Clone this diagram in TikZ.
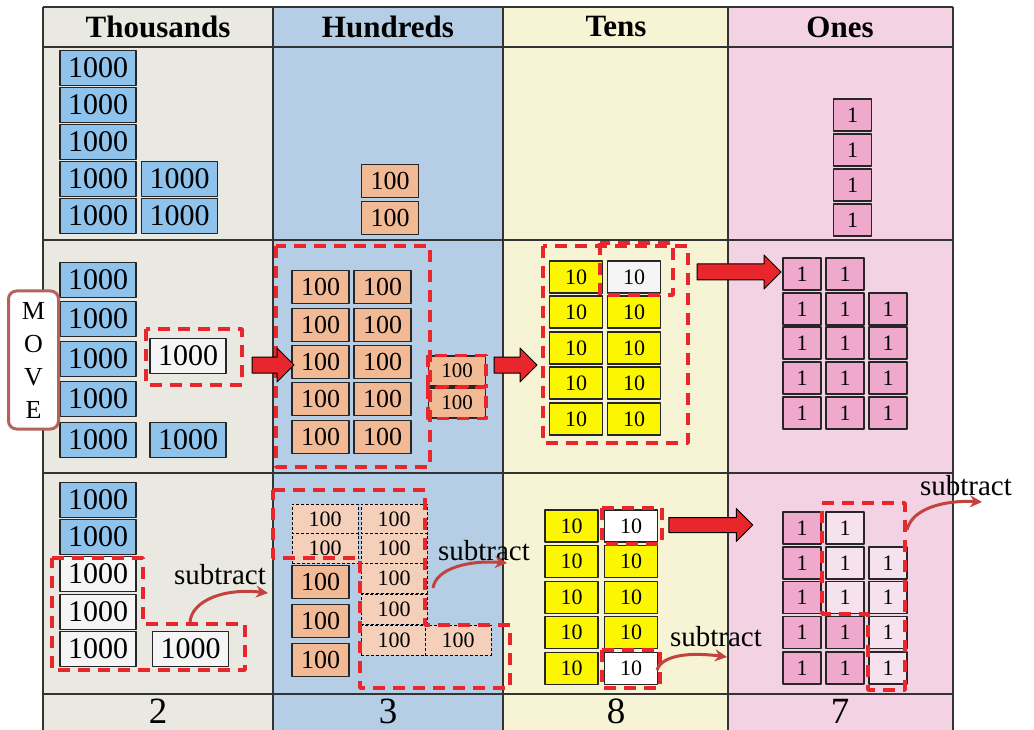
\documentclass[tikz,border=0pt]{standalone}
\usepackage{fontspec}
\setmainfont{Liberation Serif}
\usetikzlibrary{calc}
\usetikzlibrary{shapes.arrows, arrows.meta}

\definecolor{thoubg}{HTML}{E9E9E1}
\definecolor{hundbg}{HTML}{B5CEE5}
\definecolor{tenbg}{HTML}{F7F3D5}
\definecolor{onebg}{HTML}{F3D3E3}
\definecolor{thoucol}{HTML}{8FC3EC}
\definecolor{hundcol}{HTML}{F2B995}
\definecolor{hundpale}{HTML}{F4D0BA}
\definecolor{tencol}{HTML}{FCF600}
\definecolor{onecol}{HTML}{EEA9CD}
\definecolor{onepale}{HTML}{F6E2ED}
\definecolor{cutred}{HTML}{E8262C}
\definecolor{curvered}{HTML}{C2433D}
\definecolor{moveframe}{HTML}{B5625C}

\tikzset{
  tile/.style={draw=black!85, line width=1.3pt, inner sep=0pt},
  thou/.style={tile, fill=thoucol, minimum width=76pt, minimum height=35pt,
    font=\fontsize{30}{30}\selectfont},
  hund/.style={tile, fill=hundcol, minimum width=57pt, minimum height=33pt,
    font=\fontsize{26}{26}\selectfont},
  hundsmall/.style={hund, minimum height=30pt, font=\fontsize{21}{21}\selectfont},
  hundgone/.style={tile, draw=black, line width=0.8pt, densely dashed, fill=hundpale,
    minimum width=66pt, minimum height=30pt, font=\fontsize{22}{22}\selectfont},
  ten/.style={tile, fill=tencol, minimum width=53pt, minimum height=32pt,
    font=\fontsize{22}{22}\selectfont},
  one/.style={tile, fill=onecol, minimum width=38pt, minimum height=32pt,
    font=\fontsize{22}{22}\selectfont},
  gone/.style={fill=white!96!black},
  palepink/.style={fill=onepale},
  gridline/.style={draw=black!80, line width=1.2pt},
  head/.style={font=\fontsize{31}{31}\selectfont\bfseries},
  digit/.style={font=\fontsize{37}{37}\selectfont},
  cut/.style={draw=cutred, line width=3.5pt, dash pattern=on 12pt off 8pt},
  bigarrow/.style={single arrow, draw=black, line width=1pt, fill=cutred,
    inner xsep=0pt, inner ysep=7.5pt, single arrow head extend=9pt},
  sublabel/.style={font=\fontsize{29}{29}\selectfont},
  subarrow/.style={draw=curvered, line width=3pt, -{Stealth[length=12pt, width=12pt]}},
}

\begin{document}
\begin{tikzpicture}[x=1pt, y=-1pt, line join=round]
  \useasboundingbox (0,0) rectangle (1034,730);

  %--------------------------
  % Columns and grid
  %--------------------------
  \fill[thoubg] (43,7) rectangle (273,730);
  \fill[hundbg] (273,7) rectangle (503,730);
  \fill[tenbg] (503,7) rectangle (728,730);
  \fill[onebg] (728,7) rectangle (953,730);
  \foreach \x in {43,273,503,728,953}
    \draw[gridline] (\x,7) -- (\x,730);
  \foreach \y in {7,47,240,473,694}
    \draw[gridline] (43,\y) -- (953,\y);

  \foreach \name/\x/\txt in {th/158/Thousands, hu/388/Hundreds, te/616/Tens, on/840/Ones}
    \node[head] (head-\name) at (\x,27) {\txt};
  \foreach \name/\x/\d in {th/158/2, hu/388/3, te/616/8, on/840/7}
    \node[digit] (res-\name) at (\x,711) {\d};

  %--------------------------
  % Row 1: the number
  %--------------------------
  \foreach \y [count=\i] in {68,105,142,179,216}
    \node[thou] (ta\i) at (98,\y) {1000};
  \node[thou] (ta6) at (179.5,179) {1000};
  \node[thou] (ta7) at (179.5,216) {1000};
  \node[hund] (ha1) at (390,181) {100};
  \node[hund] (ha2) at (390,218) {100};
  \foreach \y [count=\i] in {115,150,185,220}
    \node[one] (oa\i) at (852.5,\y) {1};

  %--------------------------
  % Row 2: regrouping
  %--------------------------
  \foreach \y [count=\i] in {280,319,359,399,440}
    \node[thou] (tb\i) at (98,\y) {1000};
  \node[thou, gone] (tbm) at (188,356) {1000};
  \node[thou] (tb6) at (188,440) {1000};

  \foreach \y [count=\i] in {287,325,362,399,437} {
    \node[hund] (hbl\i) at (320.5,\y) {100};
    \node[hund] (hbr\i) at (382.5,\y) {100};
  }
  \node[hundsmall] (hbx1) at (457,371) {100};
  \node[hundsmall] (hbx2) at (457,403) {100};

  \node[ten] (nbl1) at (576,277) {10};
  \node[ten, gone] (nbr1) at (634,277) {10};
  \foreach \y [count=\i from 2] in {312,348,383,419} {
    \node[ten] (nbl\i) at (576,\y) {10};
    \node[ten] (nbr\i) at (634,\y) {10};
  }

  \node[one] (ob1) at (802,274) {1};
  \node[one] (ob2) at (845,274) {1};
  \foreach \y [count=\i from 2] in {309,343,378,413}
    \foreach \x/\c in {802/a,845/b,888/c}
      \node[one] (ob\c\i) at (\x,\y) {1};

  % moved groups
  \draw[cut] (146,329) rectangle (242,385);
  \draw[cut] (276,246) rectangle (430,467);
  \draw[cut] (hbx1.north west) rectangle (hbx1.south east);
  \draw[cut] (hbx2.north west) rectangle (hbx2.south east);
  \draw[cut] (543,246) rectangle (688,443);
  \draw[cut] (600,243) rectangle (673,295);

  \node[bigarrow, minimum height=42pt] (mv1) at (269,365) {};
  \node[bigarrow, minimum height=43pt] (mv2) at (511.5,365) {};
  \node[bigarrow, minimum height=84pt] (mv3) at (735,272) {};

  % MOVE label
  \node[draw=moveframe, line width=3pt, rounded corners=8pt, fill=white,
        minimum width=50pt, minimum height=138pt, align=center,
        font=\fontsize{26}{33}\selectfont] (move) at (33.5,360) {M\\O\\V\\E};

  %--------------------------
  % Row 3: subtracting
  %--------------------------
  \foreach \y [count=\i] in {500,537} 
    \node[thou] (tc\i) at (98,\y) {1000};
  \foreach \y [count=\i from 3] in {574,612,649}
    \node[thou, gone] (tc\i) at (98,\y) {1000};
  \node[thou, gone] (tc6) at (190.5,649) {1000};

  \node[hundgone] (hcg1) at (325,519) {100};
  \node[hundgone] (hcg2) at (394,519) {100};
  \node[hundgone] (hcg3) at (325,548) {100};
  \foreach \y [count=\i from 4] in {548,578,609,640}
    \node[hundgone] (hcg\i) at (394,\y) {100};
  \node[hundgone] (hcg8) at (458,640) {100};
  \foreach \y [count=\i] in {582,621,660}
    \node[hund] (hc\i) at (320.5,\y) {100};

  \foreach \y [count=\i] in {526,561.5,597.5,632.5,668.5}
    \node[ten] (ncl\i) at (571.5,\y) {10};
  \node[ten, fill=white] (ncr1) at (631,526) {10};
  \foreach \y [count=\i from 2] in {561.5,597.5,632.5}
    \node[ten] (ncr\i) at (631,\y) {10};
  \node[ten, fill=white] (ncr5) at (631,668.5) {10};

  \node[one] (oc1) at (802,528) {1};
  \node[one, palepink] (oc2) at (845,528) {1};
  \foreach \y [count=\i from 2] in {563,597.5,632.5,668}
    \node[one] (oca\i) at (802,\y) {1};
  \foreach \y [count=\i from 2] in {563,597.5}
    \node[one, palepink] (ocb\i) at (845,\y) {1};
  \foreach \y [count=\i from 4] in {632.5,668}
    \node[one] (ocb\i) at (845,\y) {1};
  \foreach \y [count=\i from 2] in {563,597.5,632.5,668}
    \node[one, palepink] (occ\i) at (888,\y) {1};

  % taken away
  \draw[cut] (52,558) -- (143,558) -- (143,624) -- (245,624) -- (245,670) -- (52,670) -- cycle;
  \draw[cut] (273,490) -- (425,490) -- (425,625) -- (510,625) -- (510,688)
             -- (360,688) -- (360,558) -- (273,558) -- cycle;
  \draw[cut] (602,508) rectangle (662,544);
  \draw[cut] (602,650) rectangle (660,688);
  \draw[cut] (822,503) -- (905,503) -- (905,690) -- (868,690) -- (868,614)
             -- (822,614) -- cycle;

  \node[bigarrow, minimum height=84pt, inner ysep=7pt] (mv4) at (707,525) {};

  \node[sublabel] (sub-th) at (220,575) {subtract};
  \node[sublabel] (sub-hu) at (484,551) {subtract};
  \node[sublabel] (sub-te) at (716,637) {subtract};
  \node[sublabel] (sub-on) at (966,486) {subtract};
  \draw[subarrow] (190,622) .. controls (192,600) and (225,588) .. (268,593);
  \draw[subarrow] (433,588) .. controls (436,568) and (470,560) .. (507,563);
  \draw[subarrow] (657,670) .. controls (662,655) and (690,652) .. (727,657);
  \draw[subarrow] (907,530) .. controls (912,508) and (945,500) .. (982,502);

\end{tikzpicture}
\end{document}
